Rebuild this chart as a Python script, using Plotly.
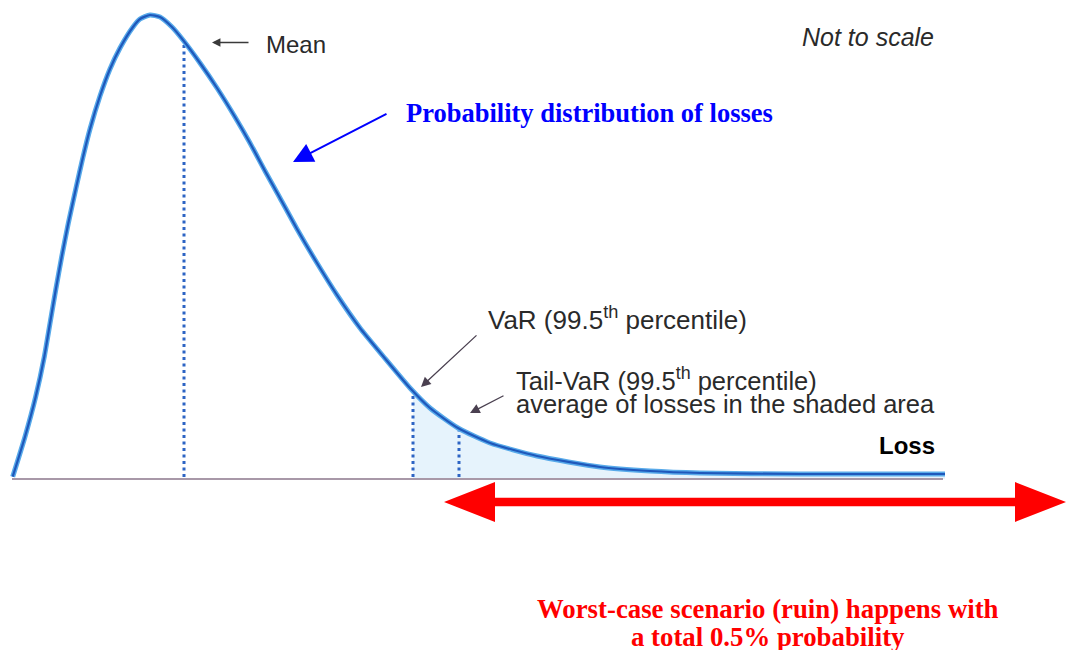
import numpy as np
import plotly.graph_objects as go

# ---- data (loss in arbitrary units, density above baseline) ----
BASE = 479  # picture row of the loss axis
loss = [12.7, 25, 35.7, 44.3, 50, 55.7, 61.7, 68.3, 76, 83, 90, 100, 110, 120, 133, 140, 150,
        160, 172, 183, 200, 217, 235, 250, 265, 280, 297, 317, 337, 360, 383, 410, 430, 458,
        490, 537, 600, 650, 700, 800, 945]
curve_row = [476.7, 436.7, 396.7, 356.7, 323.3, 290, 256.7, 223.3, 188, 157, 129, 96, 69, 48,
             27, 19, 15, 17, 27, 40, 63, 88, 117, 143, 171, 198, 229, 263, 295, 328, 356, 388,
             408, 428, 443, 456, 467, 471, 473, 474, 474]
density = [BASE - r for r in curve_row]

mean_loss = 184
var_loss = 413
tvar_loss = 459
axis_start, axis_end = 12, 943

def Y(row):
    return BASE - row

dens_at = lambda v: float(np.interp(v, loss, density))

fig = go.Figure()

# shaded tail area
tail_x = [var_loss] + [x for x in loss if x > var_loss]
tail_y = [dens_at(var_loss)] + [d for x, d in zip(loss, density) if x > var_loss]
fig.add_trace(go.Scatter(x=tail_x, y=tail_y, mode="lines", line=dict(width=0, shape="spline", smoothing=0.6),
                         fill="tozeroy", fillcolor="#e6f3fc", hoverinfo="skip", showlegend=False))

# baseline (loss axis)
fig.add_trace(go.Scatter(x=[axis_start, axis_end], y=[0, 0], mode="lines",
                         line=dict(color="#a898a8", width=2), hoverinfo="skip", showlegend=False))

# dotted markers for mean, VaR, Tail-VaR
for v in (mean_loss, var_loss, tvar_loss):
    fig.add_trace(go.Scatter(x=[v, v], y=[2, dens_at(v) - 2], mode="lines",
                             line=dict(color="#2d64c4", width=3, dash="3px,3.5px"),
                             hoverinfo="skip", showlegend=False))

# distribution curve (light halo + dark core)
fig.add_trace(go.Scatter(x=loss, y=density, mode="lines",
                         line=dict(color="#58aaea", width=5, shape="spline", smoothing=0.6),
                         hoverinfo="skip", showlegend=False))
fig.add_trace(go.Scatter(x=loss, y=density, mode="lines",
                         line=dict(color="#1f58bb", width=2.2, shape="spline", smoothing=0.6),
                         hoverinfo="skip", showlegend=False))

sans = "Liberation Sans, Arial, sans-serif"
serif = "Liberation Serif, Times New Roman, serif"
ann = []

def text(x, row, t, size, color, family, xanchor="left"):
    ann.append(dict(x=x, y=Y(row), xref="x", yref="y", text=t, showarrow=False,
                    xanchor=xanchor, yanchor="middle",
                    font=dict(size=size, color=color, family=family)))

def arrow(x_tip, row_tip, x_tail, row_tail, color, width, head, size):
    ann.append(dict(x=x_tip, y=Y(row_tip), ax=x_tail, ay=Y(row_tail), xref="x", yref="y",
                    axref="x", ayref="y", text="", showarrow=True, arrowhead=head,
                    arrowsize=size, arrowwidth=width, arrowcolor=color))

text(264, 44, "Mean", 24, "#2a2a2a", sans)
arrow(212, 42.5, 250, 42.5, "#3a3a3a", 1.3, 2, 1.3)

text(800, 37, "<i>Not to scale</i>", 25, "#2a2a2a", sans)

text(404, 113, "<b>Probability distribution of losses</b>", 26.5, "#0000ff", serif)
arrow(293, 162, 388, 113, "#0000ff", 2, 2, 2)

text(486, 318, "VaR (99.5<sup>th</sup> percentile)", 26, "#2a2a2a", sans)
arrow(421, 387, 478, 334, "#4a4050", 1.3, 2, 1.5)

text(514, 379, "Tail-VaR (99.5<sup>th</sup> percentile)", 25.5, "#2a2a2a", sans)
text(514, 404, "average of losses in the shaded area", 25.5, "#2a2a2a", sans)
arrow(470, 413, 505, 395, "#4a4050", 1.3, 2, 1.5)

text(937, 445, "<b>Loss</b>", 24, "#000000", sans, xanchor="right")

text(768, 609, "<b>Worst-case scenario (ruin) happens with</b>", 26.8, "#ff0000", serif, xanchor="center")
text(768, 637, "<b>a total 0.5% probability</b>", 26.8, "#ff0000", serif, xanchor="center")

# red double-headed arrow spanning the tail
ax0, ax1, arow = 444, 1066, 502
hl, hh, sh = 51, 20, 4.2
yc = Y(arow)
pts = [(ax0, yc), (ax0 + hl, yc + hh), (ax0 + hl, yc + sh), (ax1 - hl, yc + sh), (ax1 - hl, yc + hh),
       (ax1, yc), (ax1 - hl, yc - hh), (ax1 - hl, yc - sh), (ax0 + hl, yc - sh), (ax0 + hl, yc - hh)]
path = "M " + " L ".join(f"{x},{y}" for x, y in pts) + " Z"
shapes = [dict(type="path", path=path, xref="x", yref="y", fillcolor="#ff0000", line=dict(width=0))]

fig.update_layout(
    width=1066, height=650, margin=dict(l=0, r=0, t=0, b=0),
    paper_bgcolor="white", plot_bgcolor="white",
    xaxis=dict(range=[0, 1066], visible=False, fixedrange=True),
    yaxis=dict(range=[Y(650), Y(0)], visible=False, fixedrange=True),
    annotations=ann, shapes=shapes, showlegend=False,
)

fig.write_html("out.html", config={"displayModeBar": False},
               post_script="document.body.style.margin='0';document.body.style.overflow='hidden';")
